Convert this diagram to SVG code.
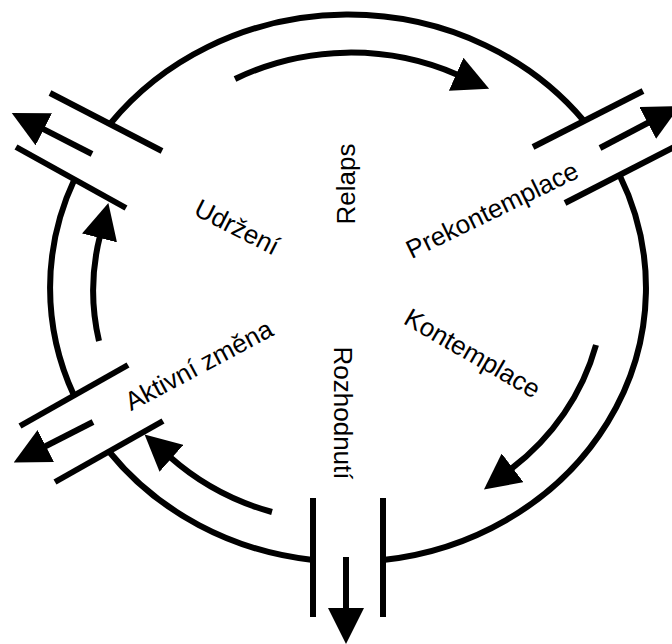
<svg xmlns="http://www.w3.org/2000/svg" width="672" height="644" viewBox="0 0 672 644">
<style>
.ln{fill:none;stroke:#000;stroke-width:6;stroke-linecap:butt}
.ar{fill:none;stroke:#000;stroke-width:6;marker-end:url(#head)}
.lb{font-family:"Liberation Sans",Arial,sans-serif;font-size:26px;fill:#000;text-anchor:middle}
</style>
<defs>
<marker id="head" markerUnits="userSpaceOnUse" viewBox="0 0 36 36" markerWidth="36" markerHeight="36" refX="2" refY="18" orient="auto">
<path d="M0,0 L36,18 L0,36 Z" fill="#000"/>
</marker>
</defs>
<rect width="672" height="644" fill="#fff"/>
<g id="ring">
<path class="ln" d="M110,124 A298,274 0 0,1 584,121"/>
<path class="ln" d="M619.5,175 A298,274 0 0,1 383,560"/>
<path class="ln" d="M313,560 A298,274 0 0,1 109,451.5"/>
<path class="ln" d="M74,395.5 A298,274 0 0,1 74.5,179.3"/>
</g>
<g id="exit-udrzeni">
<line class="ln" x1="50" y1="93" x2="162" y2="151"/>
<line class="ln" x1="16" y1="147" x2="126" y2="208"/>
<path class="ar" d="M92,154 L42,128.4"/>
</g>
<g id="exit-prekontemplace">
<line class="ln" x1="533" y1="147" x2="643" y2="91"/>
<line class="ln" x1="565" y1="203" x2="676" y2="146"/>
<path class="ar" d="M600,148 L649.5,122"/>
</g>
<g id="exit-rozhodnuti">
<line class="ln" x1="313" y1="498" x2="313" y2="617"/>
<line class="ln" x1="383" y1="498" x2="383" y2="617"/>
<path class="ar" d="M346,557 L346,610"/>
</g>
<g id="exit-aktivni">
<line class="ln" x1="20" y1="426" x2="128" y2="365"/>
<line class="ln" x1="55" y1="482" x2="163" y2="421"/>
<path class="ar" d="M93,422 L44,447"/>
</g>
<g id="connectors">
<path class="ar" d="M235,79 A252,236 0 0,1 458,75"/>
<path class="ar" d="M596,345 A252,236 0 0,1 511,469"/>
<path class="ar" d="M272,512 A252,236 0 0,1 170,457"/>
<path class="ar" d="M99,341 A252,236 0 0,1 100,236"/>
</g>
<g id="relaps"><text class="lb" transform="translate(355,184) rotate(-90)">Relaps</text></g>
<g id="prekontemplace"><text class="lb" transform="translate(496,218) rotate(-26)">Prekontemplace</text></g>
<g id="kontemplace"><text class="lb" transform="translate(468,361) rotate(30)">Kontemplace</text></g>
<g id="rozhodnuti"><text class="lb" transform="translate(334,413) rotate(90)">Rozhodnutí</text></g>
<g id="aktivni-zmena"><text class="lb" transform="translate(203,373) rotate(-28)">Aktivní změna</text></g>
<g id="udrzeni"><text class="lb" transform="translate(233,235) rotate(27)">Udržení</text></g>
</svg>
